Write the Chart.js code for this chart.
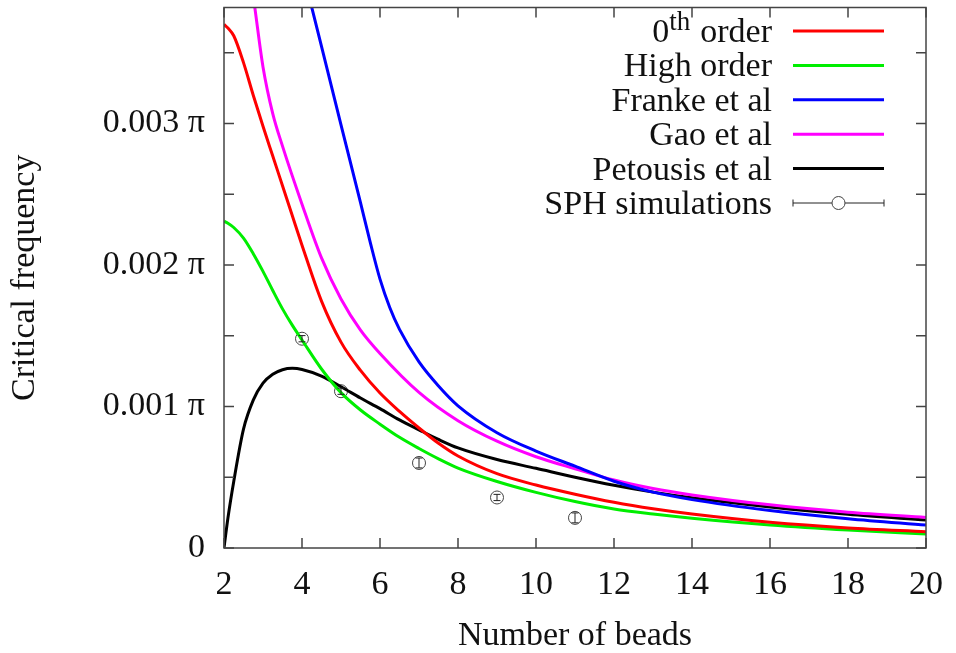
<!DOCTYPE html>
<html>
<head>
<meta charset="utf-8">
<script src="https://cdn.jsdelivr.net/npm/chart.js@4.4.1/dist/chart.umd.min.js"></script>
<style>
  html, body { margin: 0; padding: 0; background: #fff; }
  canvas { display: block; }
</style>
</head>
<body>
<canvas id="c" width="956" height="653"></canvas>
<script>
// Critical frequency, in units of 0.001 π, against the number of beads
const beads       = [2, 2.1, 2.25, 2.5, 2.75, 3, 3.25, 3.5, 3.75, 4, 4.5, 5, 5.5, 6, 6.5, 7, 7.5, 8, 9, 10, 11, 12, 13, 14, 16, 18, 20];
const zerothOrder = [3.70, 3.675, 3.62, 3.43, 3.20, 2.98, 2.77, 2.56, 2.35, 2.14, 1.745, 1.455, 1.255, 1.095, 0.965, 0.848, 0.74, 0.65, 0.525, 0.445, 0.38, 0.323, 0.277, 0.240, 0.182, 0.142, 0.115];
const highOrder   = [2.31, 2.295, 2.265, 2.19, 2.08, 1.955, 1.82, 1.69, 1.575, 1.47, 1.265, 1.098, 0.975, 0.875, 0.782, 0.703, 0.63, 0.565, 0.47, 0.393, 0.328, 0.275, 0.24, 0.211, 0.163, 0.127, 0.099];
const petousis    = [0, 0.21, 0.47, 0.84, 1.045, 1.165, 1.228, 1.26, 1.27, 1.262, 1.215, 1.14, 1.06, 0.985, 0.905, 0.835, 0.767, 0.707, 0.625, 0.563, 0.50, 0.443, 0.395, 0.355, 0.29, 0.238, 0.197];

const beadsFranke = [4.25, 4.5, 5, 5.5, 5.75, 6, 6.25, 6.5, 7, 7.5, 8, 9, 10, 11, 12, 13, 14, 16, 18, 20];
const franke      = [3.82, 3.545, 2.99, 2.44, 2.16, 1.90, 1.70, 1.545, 1.315, 1.145, 1.005, 0.815, 0.685, 0.578, 0.472, 0.395, 0.342, 0.265, 0.207, 0.162];

const beadsGao    = [2.79, 3, 3.25, 3.5, 4, 4.5, 5, 5.5, 6, 7, 8, 9, 10, 11, 12, 13, 14, 16, 18, 20];
const gao         = [3.82, 3.40, 3.07, 2.84, 2.43, 2.05, 1.76, 1.54, 1.375, 1.10, 0.90, 0.755, 0.645, 0.56, 0.48, 0.42, 0.375, 0.305, 0.253, 0.216];

const sphBeads = [4, 5, 7, 9, 11];
const sphFreq  = [1.479, 1.108, 0.601, 0.357, 0.213];
const sphErr   = [0.022, 0.022, 0.035, 0.022, 0.035];

const xTicks = [2, 4, 6, 8, 10, 12, 14, 16, 18, 20];
const yTicks = [0, 0.5, 1, 1.5, 2, 2.5, 3, 3.5];
const yMax = 12 / Math.PI;

const legendEntries = [
  { label: 'order', sup: 'th', pre: '0', color: '#ff0000' },
  { label: 'High order', color: '#00ee00' },
  { label: 'Franke et al', color: '#0000ff' },
  { label: 'Gao et al', color: '#ff00ff' },
  { label: 'Petousis et al', color: '#000000' },
  { label: 'SPH simulations', color: '#000000', errorbar: true }
];

const pts = (xs, ys) => xs.map((x, i) => ({ x, y: ys[i] }));

const SERIF = '"Liberation Serif", "DejaVu Serif", serif';
const FONT = '34px ' + SERIF;
const INK = '#111';

function curve(label, xs, ys, color) {
  return {
    label, data: pts(xs, ys), borderColor: color, backgroundColor: color,
    borderWidth: 3, pointRadius: 0, showLine: true, fill: false,
    cubicInterpolationMode: 'monotone'
  };
}

// frame with inward tick marks on all four sides, plus the axis titles
const framePlugin = {
  id: 'frame',
  afterDatasetsDraw(chart) {
    const { ctx, chartArea: a, scales: { x, y } } = chart;
    ctx.save();
    ctx.strokeStyle = '#444';
    ctx.lineWidth = 1.5;
    ctx.strokeRect(a.left, a.top, a.right - a.left, a.bottom - a.top);
    ctx.beginPath();
    const len = 10;
    xTicks.forEach(t => {
      const px = x.getPixelForValue(t);
      ctx.moveTo(px, a.bottom); ctx.lineTo(px, a.bottom - len);
      ctx.moveTo(px, a.top); ctx.lineTo(px, a.top + len);
    });
    yTicks.forEach(t => {
      const py = y.getPixelForValue(t);
      ctx.moveTo(a.left, py); ctx.lineTo(a.left + len, py);
      ctx.moveTo(a.right, py); ctx.lineTo(a.right - len, py);
    });
    ctx.stroke();

    ctx.fillStyle = INK;
    ctx.font = FONT;
    ctx.textAlign = 'center';
    ctx.textBaseline = 'alphabetic';
    ctx.fillText('Number of beads', (a.left + a.right) / 2, 645);
    ctx.translate(34, (a.top + a.bottom) / 2);
    ctx.rotate(-Math.PI / 2);
    ctx.fillText('Critical frequency', 0, 0);
    ctx.restore();
  }
};

// error bars on the simulation points
const errorBarPlugin = {
  id: 'errorbars',
  afterDatasetsDraw(chart) {
    const { ctx, scales: { x, y } } = chart;
    ctx.save();
    ctx.strokeStyle = '#222';
    ctx.lineWidth = 1;
    ctx.beginPath();
    sphBeads.forEach((b, i) => {
      const px = x.getPixelForValue(b);
      const lo = y.getPixelForValue(sphFreq[i] - sphErr[i]);
      const hi = y.getPixelForValue(sphFreq[i] + sphErr[i]);
      ctx.moveTo(px, lo); ctx.lineTo(px, hi);
      ctx.moveTo(px - 3.5, lo); ctx.lineTo(px + 3.5, lo);
      ctx.moveTo(px - 3.5, hi); ctx.lineTo(px + 3.5, hi);
    });
    ctx.stroke();
    ctx.restore();
  }
};

// key in the upper right corner
const keyPlugin = {
  id: 'key',
  afterDraw(chart) {
    const { ctx } = chart;
    const textRight = 772, lineL = 793, lineR = 884, top = 31, step = 34.4;
    ctx.save();
    ctx.fillStyle = INK;
    ctx.textBaseline = 'middle';
    ctx.textAlign = 'right';
    legendEntries.forEach((e, i) => {
      const yy = top + i * step;
      ctx.font = FONT;
      ctx.fillText(e.label, textRight, yy + 2);
      if (e.sup) {
        const w = ctx.measureText(e.label).width + 10;
        ctx.font = '27px ' + SERIF;
        ctx.fillText(e.sup, textRight - w, yy - 8);
        const ws = ctx.measureText(e.sup).width;
        ctx.font = FONT;
        ctx.fillText(e.pre, textRight - w - ws, yy + 2);
      }
      if (e.errorbar) {
        ctx.strokeStyle = '#222';
        ctx.lineWidth = 1;
        ctx.beginPath();
        ctx.moveTo(lineL, yy); ctx.lineTo(lineR, yy);
        ctx.moveTo(lineL, yy - 3.5); ctx.lineTo(lineL, yy + 3.5);
        ctx.moveTo(lineR, yy - 3.5); ctx.lineTo(lineR, yy + 3.5);
        ctx.stroke();
        ctx.beginPath();
        ctx.fillStyle = '#fff';
        ctx.arc((lineL + lineR) / 2, yy, 6.5, 0, Math.PI * 2);
        ctx.fill();
        ctx.strokeStyle = '#444';
        ctx.stroke();
        ctx.fillStyle = INK;
      } else {
        ctx.strokeStyle = e.color;
        ctx.lineWidth = 3;
        ctx.beginPath();
        ctx.moveTo(lineL, yy); ctx.lineTo(lineR, yy);
        ctx.stroke();
      }
    });
    ctx.restore();
  }
};

new Chart(document.getElementById('c'), {
  type: 'scatter',
  data: {
    datasets: [
      curve('0th order', beads, zerothOrder, '#ff0000'),
      curve('High order', beads, highOrder, '#00ee00'),
      curve('Franke et al', beadsFranke, franke, '#0000ff'),
      curve('Gao et al', beadsGao, gao, '#ff00ff'),
      curve('Petousis et al', beads, petousis, '#000000'),
      {
        label: 'SPH simulations', data: pts(sphBeads, sphFreq),
        showLine: false, pointStyle: 'circle', pointRadius: 6.5,
        borderColor: '#444', borderWidth: 1, backgroundColor: 'rgba(0,0,0,0)'
      }
    ]
  },
  options: {
    responsive: false,
    devicePixelRatio: 1,
    animation: false,
    layout: { padding: { top: 4, right: 30, left: 0, bottom: 0 } },
    plugins: { legend: { display: false }, tooltip: { enabled: false } },
    scales: {
      x: {
        type: 'linear', min: 2, max: 20,
        grid: { display: false, drawTicks: false }, border: { display: false },
        afterFit(s) { s.height = 105; s.paddingLeft = 0; s.paddingRight = 0; },
        afterBuildTicks(s) { s.ticks = xTicks.map(v => ({ value: v })); },
        ticks: { color: INK, font: { family: SERIF, size: 34 }, padding: 17, maxRotation: 0 }
      },
      y: {
        type: 'linear', min: 0, max: yMax,
        grid: { display: false, drawTicks: false }, border: { display: false },
        afterFit(s) { s.width = 224; s.paddingTop = 0; s.paddingBottom = 0; },
        afterBuildTicks(s) { s.ticks = yTicks.filter(v => Number.isInteger(v)).map(v => ({ value: v })); },
        ticks: {
          color: INK, font: { family: SERIF, size: 34 }, padding: 19,
          callback: v => (v === 0 ? '0' : '0.00' + v + ' π')
        }
      }
    }
  },
  plugins: [framePlugin, errorBarPlugin, keyPlugin]
});
</script>
</body>
</html>
